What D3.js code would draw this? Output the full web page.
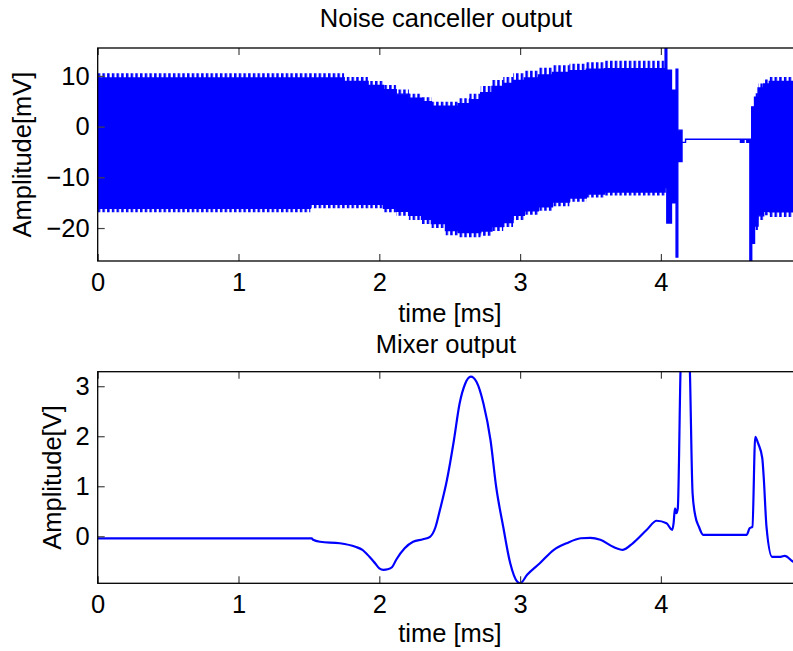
<!DOCTYPE html>
<html>
<head>
<meta charset="utf-8">
<script src="https://cdn.jsdelivr.net/npm/d3@7"></script>
<style>
  body { margin: 0; background: #fff; }
  text { font-family: "Liberation Sans", Arial, Helvetica, sans-serif; }
</style>
</head>
<body>
<svg id="chart" width="793" height="651"></svg>
<script>
// ---- Noise canceller output: envelope of the carrier burst (mV) ----
const noiseTime    = [0.00, 1.51, 1.75, 1.92, 2.03, 2.12, 2.21, 2.30, 2.37, 2.47, 2.56, 2.64, 2.72, 2.80, 2.88, 2.95, 3.03, 3.13, 3.23, 3.35, 3.47, 3.60,
                      4.030, 4.042, 4.075, 4.108, 4.120, 4.150, 4.175, 4.565, 4.590, 4.610, 4.632, 4.645, 4.665, 4.690, 4.730, 4.770, 5.00];
const noiseTipHigh = [10.5, 10.5, 9.8, 9.0, 8.2, 7.3, 6.5, 5.8, 4.9, 4.9, 5.6, 6.5, 8.0, 9.2, 9.8, 10.5, 11.0, 11.6, 12.1, 12.4, 12.7, 13.0,
                      17.0, 11.1, 7.2, 11.3, -0.7, -3.1, -2.5, -2.5, -2.5, -2.5, -2.5, 3.9, 6.6, 8.5, 9.3, 9.8, 9.8];
const noiseBaseHigh= [9.6, 9.6, 8.9, 8.1, 7.3, 6.4, 5.6, 4.9, 4.0, 4.0, 4.5, 5.3, 6.7, 7.9, 8.5, 9.1, 9.6, 10.2, 10.7, 11.0, 11.3, 11.4,
                      17.0, 11.1, 7.2, 11.3, -0.7, -3.1, -2.5, -2.5, -2.5, -2.5, -2.5, 3.9, 5.8, 7.6, 8.4, 8.9, 8.9];
const noiseBaseLow = [-16.1, -15.3, -15.3, -15.3, -16.1, -16.7, -17.5, -18.3, -19.1, -20.5, -20.9, -20.9, -20.6, -19.7, -18.9, -17.5, -16.6, -15.8, -14.9, -14.1, -13.3, -12.9,
                      -12.0, -19.0, -15.0, -25.7, -6.9, -3.1, -2.5, -3.1, -2.5, -3.1, -27.0, -23.0, -19.6, -17.6, -16.7, -16.8, -16.8];
const noiseTipLow  = [-16.9, -16.1, -16.1, -16.1, -16.9, -17.6, -18.4, -19.2, -20.0, -21.4, -21.8, -21.8, -21.5, -20.6, -19.8, -18.4, -17.4, -16.6, -15.7, -14.8, -14.0, -13.6,
                      -12.0, -19.0, -15.0, -25.7, -6.9, -3.1, -2.5, -3.1, -2.5, -3.1, -27.0, -23.0, -20.4, -18.4, -17.5, -17.8, -17.8];

// ---- Mixer output (V) ----
const mixerTime  = [0, 1.52, 1.53, 1.58, 1.72, 1.83, 1.88, 1.93, 1.97, 2.00, 2.03, 2.06, 2.09, 2.12, 2.18, 2.24, 2.31, 2.36, 2.40, 2.43, 2.48, 2.53, 2.57, 2.61, 2.65, 2.69, 2.74, 2.79, 2.83, 2.88, 2.93, 2.98, 3.00, 3.05, 3.14, 3.24, 3.33, 3.43, 3.50, 3.57, 3.66, 3.73, 3.80, 3.90, 3.97, 4.04, 4.08, 4.09, 4.10, 4.11, 4.12, 4.14, 4.155, 4.185, 4.205, 4.225, 4.245, 4.27, 4.30, 4.61, 4.63, 4.65, 4.67, 4.69, 4.72, 4.73, 4.75, 4.79, 4.85, 4.88, 4.94, 5.00];
const mixerValue = [-0.04, -0.04, -0.07, -0.11, -0.14, -0.21, -0.27, -0.41, -0.54, -0.64, -0.67, -0.66, -0.62, -0.47, -0.24, -0.11, -0.06, -0.01, 0.19, 0.52, 1.12, 1.92, 2.65, 3.05, 3.19, 3.09, 2.65, 1.92, 0.99, 0.19, -0.54, -0.91, -0.94, -0.77, -0.54, -0.27, -0.14, -0.04, -0.03, -0.07, -0.21, -0.27, -0.14, 0.13, 0.31, 0.26, 0.13, 0.26, 0.56, 0.46, 0.56, 3.4, 4.6, 4.6, 3.4, 0.86, 0.40, 0.19, 0.03, 0.03, 0.16, 0.19, 1.99, 1.86, 1.56, 1.19, 0.19, -0.41, -0.41, -0.39, -0.51, -0.55];

// ---- Ticks and labels ----
const timeTicks  = [0, 1, 2, 3, 4];
const noiseTicks = [-20, -10, 0, 10];
const mixerTicks = [0, 1, 2, 3];
const titles     = ["Noise canceller output", "Mixer output"];
const yLabels    = ["Amplitude[mV]", "Amplitude[V]"];
const xLabel     = "time [ms]";

const BLUE = "#0000ff";
const FONT = 25.5;
const svg = d3.select("#chart");
const defs = svg.append("defs");

// vertical stripes for the ragged carrier edges
const stripe = defs.append("pattern")
  .attr("id", "teeth").attr("patternUnits", "userSpaceOnUse")
  .attr("x", 97.7).attr("y", 0).attr("width", 4.7).attr("height", 651);
stripe.append("rect").attr("x", 0).attr("y", 0).attr("width", 2.5).attr("height", 651).attr("fill", BLUE);

const left = 97.7, right = 801.7;
const panels = [
  { top: 48, bottom: 261, domain: [-26.5, 15.5], ticks: noiseTicks, title: titles[0], ylab: yLabels[0],
    titleY: 27, ylabX: 31, xlabY: 322 },
  { top: 371.7, bottom: 583.3, domain: [-0.94, 3.29], ticks: mixerTicks, title: titles[1], ylab: yLabels[1],
    titleY: 353, ylabX: 61, xlabY: 642 }
];

const x = d3.scaleLinear().domain([0, 5]).range([left, right]);

panels.forEach((p, i) => {
  const y = d3.scaleLinear().domain(p.domain).range([p.bottom, p.top]);
  const g = svg.append("g");
  const clipId = "clip" + i;
  defs.append("clipPath").attr("id", clipId)
    .append("rect").attr("x", left).attr("y", p.top).attr("width", right - left).attr("height", p.bottom - p.top);

  const plot = g.append("g").attr("clip-path", `url(#${clipId})`);

  if (i === 0) {
    const rows = noiseTime.map((t, k) => ({ t, th: noiseTipHigh[k], bh: noiseBaseHigh[k], bl: noiseBaseLow[k], tl: noiseTipLow[k] }));
    const body = d3.area().curve(d3.curveStepAfter).x(d => x(d.t)).y0(d => y(d.bl)).y1(d => y(d.bh));
    const upper = d3.area().curve(d3.curveStepAfter).x(d => x(d.t)).y0(d => y(d.bh)).y1(d => y(d.th));
    const lower = d3.area().curve(d3.curveStepAfter).x(d => x(d.t)).y0(d => y(d.tl)).y1(d => y(d.bl));
    plot.append("path").attr("d", upper(rows)).attr("fill", "url(#teeth)");
    plot.append("path").attr("d", lower(rows)).attr("fill", "url(#teeth)");
    plot.append("path").attr("d", body(rows)).attr("fill", BLUE).attr("stroke", BLUE).attr("stroke-width", 1.4);
  } else {
    const pts = mixerTime.map((t, k) => [t, mixerValue[k]]);
    const line = d3.line().curve(d3.curveMonotoneX).x(d => x(d[0])).y(d => y(d[1]));
    plot.append("path").attr("d", line(pts)).attr("fill", "none").attr("stroke", BLUE).attr("stroke-width", 2.2);
  }

  // axes with inward ticks
  const ax = d3.axisBottom(x).tickValues(timeTicks).tickFormat(d3.format("d")).tickSize(-7).tickPadding(12);
  const axTop = d3.axisTop(x).tickValues(timeTicks).tickFormat("").tickSize(-7);
  const ay = d3.axisLeft(y).tickValues(p.ticks).tickFormat(d => d < 0 ? "\u2212" + Math.abs(d) : d).tickSize(-7).tickPadding(8);

  const gx = g.append("g").attr("transform", `translate(0,${p.bottom})`).call(ax);
  const gt = g.append("g").attr("transform", `translate(0,${p.top})`).call(axTop);
  const gy = g.append("g").attr("transform", `translate(${left},0)`).call(ay);
  [gx, gt, gy].forEach(a => {
    a.select(".domain").remove();
    a.selectAll(".tick line").attr("stroke", "#444").attr("stroke-width", 1.2);
    a.selectAll(".tick text").attr("font-size", FONT).attr("fill", "#000");
  });

  // box
  g.append("rect").attr("x", left).attr("y", p.top).attr("width", right - left).attr("height", p.bottom - p.top)
    .attr("fill", "none").attr("stroke", "#000").attr("stroke-width", 1.3);

  g.append("text").attr("x", 446).attr("y", p.titleY).attr("text-anchor", "middle").attr("font-size", FONT).text(p.title);
  g.append("text").attr("x", 450).attr("y", p.xlabY).attr("text-anchor", "middle").attr("font-size", FONT).text(xLabel);
  g.append("text").attr("transform", `translate(${p.ylabX},${(p.top + p.bottom) / 2}) rotate(-90)`)
    .attr("text-anchor", "middle").attr("font-size", FONT).text(p.ylab);
});
</script>
</body>
</html>
